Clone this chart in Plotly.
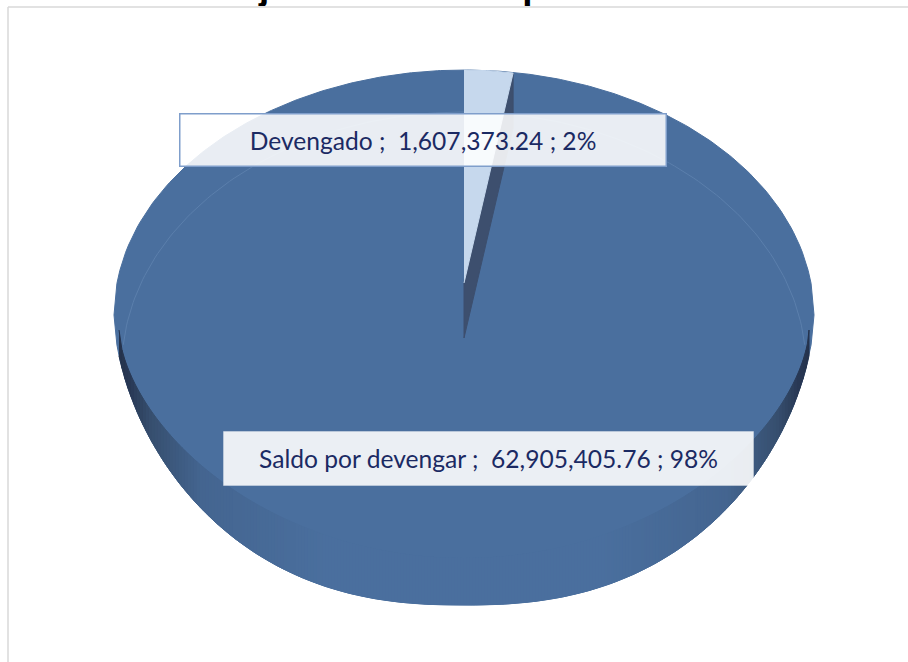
import numpy as np
import plotly.graph_objects as go

# ---- data ----
categories = ["Devengado", "Saldo por devengar"]
values = [1607373.24, 62905405.76]
title_text = "Ejecución Presupuestal"

# ---- styles / projection of the tilted pie ----
MAIN = "#4a6f9e"
LIGHT = "#c6d8ed"
WALL = "#3d4f6e"
TEXT = "#1b2a63"
cx = 464
sil_cy, sil_rx, sil_top, sil_bot = 315, 350, 245, 290
face_cy, face_rx, face_bot = 330, 345, 228
back_cy, back_rx, back_top = 367, 342, 255
wedge_rx, wedge_cy, wedge_ry = 315, 315, 245
tip_light, tip_dark = 283, 338

total = sum(values)
share = [v / total for v in values]

fig = go.Figure()


def poly(x, y, color, line=None):
    fig.add_trace(go.Scatter(
        x=x, y=y, mode="lines", fill="toself", fillcolor=color,
        line=dict(color=line or color, width=1), hoverinfo="skip", showlegend=False))


def lower_sil(dx):
    u = np.clip(np.abs(dx) / sil_rx, 0, 1)
    return sil_cy + sil_bot * (1 - u ** 2.4) ** 0.58


def lower_face(dx):
    u = np.clip(np.abs(dx) / face_rx, 0, 1)
    return face_cy + face_bot * (1 - u ** 2) ** 0.6


# body silhouette
upper = np.linspace(-sil_rx, sil_rx, 241)
lower = upper[::-1]
poly(np.r_[cx + upper, cx + lower],
     np.r_[sil_cy - sil_top * np.sqrt(1 - (upper / sil_rx) ** 2), lower_sil(lower)], MAIN)

# shaded side wall, as thin strips between face edge and silhouette
shade_at = [0.0, 0.4, 0.76, 0.91, 0.97, 1.0]
shade_r = [74, 74, 68, 54, 40, 36]
shade_g = [111, 111, 101, 78, 56, 50]
shade_b = [158, 158, 144, 110, 84, 76]


def shade(f):
    return "rgb({:.0f},{:.0f},{:.0f})".format(
        np.interp(f, shade_at, shade_r), np.interp(f, shade_at, shade_g), np.interp(f, shade_at, shade_b))


edges = np.arange(-345, 346, 3)
for a, b in zip(edges[:-1], edges[1:]):
    xs = np.linspace(a, b, 3)
    top = lower_face(xs)
    bot = np.maximum(lower_sil(xs), top)
    poly(np.r_[cx + xs, cx + xs[::-1]], np.r_[top, bot[::-1]], shade(abs((a + b) / 2) / face_rx))

# faint rim of the top face
a = np.linspace(np.radians(5), np.radians(175), 160)
fig.add_trace(go.Scatter(
    x=cx + back_rx * np.cos(a), y=back_cy - back_top * np.sin(a), mode="lines",
    line=dict(color="#5b7fac", width=1), hoverinfo="skip", showlegend=False))

# small slice, its angle comes from the data; the cut wall drops by the pie's depth
theta = np.linspace(0, 2 * np.pi * share[0], 12)
rim_x = cx + wedge_rx * np.sin(theta)
rim_y = wedge_cy - wedge_ry * np.cos(theta)
depth = tip_dark - tip_light
poly([rim_x[-1], rim_x[-1], cx, cx, rim_x[-1]],
     [rim_y[-1], rim_y[-1] + depth, tip_dark, tip_light, rim_y[-1]], WALL)
poly(np.r_[rim_x, cx], np.r_[rim_y, tip_light], LIGHT)

# title, cut off by the top of the picture and by the chart frame, as in the source
fig.add_trace(go.Scatter(
    x=[443], y=[8], mode="text", text=[f"<b>{title_text}</b>"], textposition="top center",
    textfont=dict(family="Liberation Sans", size=37, color="black"),
    cliponaxis=False, hoverinfo="skip", showlegend=False))

# labels
pct = [round(s * 100) for s in share]
label_text = [f"{c} ;  {v:,.2f} ; {p}%" for c, v, p in zip(categories, values, pct)]
annots = [
    dict(text=label_text[0], x=422.5, y=139.5, width=483, height=49, bordercolor="#7f9ecb",
         borderwidth=1.5, bgcolor="rgba(255,255,255,0.88)"),
    dict(text=label_text[1], x=488.5, y=458.5, width=527, height=51, bordercolor="rgba(255,255,255,0.3)",
         borderwidth=1, bgcolor="rgba(255,255,255,0.89)"),
]
for an in annots:
    fig.add_annotation(xref="x", yref="y", showarrow=False, align="center", valign="middle",
                       font=dict(family="Lato", size=24.6, color=TEXT), **an)

fig.update_layout(
    width=908, height=662, margin=dict(l=0, r=0, t=0, b=0),
    paper_bgcolor="white", plot_bgcolor="white", showlegend=False,
    xaxis=dict(range=[0, 908], visible=False, fixedrange=True),
    yaxis=dict(range=[662, 0], visible=False, fixedrange=True),
    shapes=[
        dict(type="rect", xref="x", yref="y", x0=0, y0=6, x1=908, y1=20, layer="above",
             fillcolor="white", line=dict(width=0)),
        dict(type="line", xref="x", yref="y", x0=8, y0=7, x1=908, y1=7, layer="above",
             line=dict(color="#d9d9d9", width=1.5)),
        dict(type="line", xref="x", yref="y", x0=8, y0=7, x1=8, y1=662, layer="above",
             line=dict(color="#d9d9d9", width=1.5)),
    ],
)
fig.write_html("out.html", config=dict(displayModeBar=False),
               post_script="document.body.style.margin='0';document.documentElement.style.overflow='hidden';")
